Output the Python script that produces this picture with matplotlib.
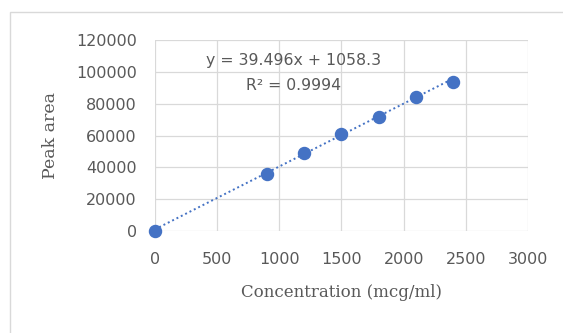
import numpy as np
import matplotlib
matplotlib.use("Agg")
import matplotlib.pyplot as plt
from matplotlib.patches import Rectangle

# calibration data
conc = [0, 900, 1200, 1500, 1800, 2100, 2400]
area = [0, 35600, 48800, 60700, 71800, 84000, 93800]
xticks = [0, 500, 1000, 1500, 2000, 2500, 3000]
yticks = [0, 20000, 40000, 60000, 80000, 100000, 120000]
slope = 39.496
intercept = 1058.3
r2 = 0.9994

blue = "#4472C4"
grey_txt = "#595959"

fig = plt.figure(figsize=(5.63, 3.33), dpi=100)
fig.patches.append(Rectangle((0.018, -0.01), 1.0, 0.975, transform=fig.transFigure,
                             fill=False, edgecolor="#d9d9d9", linewidth=1.0))

ax = fig.add_axes([0.275, 0.306, 0.663, 0.574])

# trendline
xt = np.array([conc[0], conc[-1]])
ax.plot(xt, slope * xt + intercept, linestyle=(0, (1, 1.5)), color=blue, linewidth=1.4, zorder=2)
ax.scatter(conc, area, s=75, color=blue, zorder=3, clip_on=False)

ax.set_xlim(0, 3000)
ax.set_ylim(0, 120000)
ax.set_xticks(xticks)
ax.set_yticks(yticks)
ax.grid(True, color="#d9d9d9", linewidth=0.9)
ax.set_axisbelow(True)
for s in ax.spines.values():
    s.set_visible(False)
ax.tick_params(length=0, labelsize=11.5, colors=grey_txt)
ax.tick_params(axis="x", pad=15)
ax.tick_params(axis="y", pad=13)

ax.set_xlabel("Concentration (mcg/ml)", family="DejaVu Serif", fontsize=12,
              color=grey_txt, labelpad=12)
ax.set_ylabel("Peak area", family="DejaVu Serif", fontsize=12.5,
              color=grey_txt, labelpad=12)

ax.text(0.373, 0.895, f"y = {slope}x + {intercept}", transform=ax.transAxes,
        ha="center", va="center", fontsize=11.3, color=grey_txt)
ax.text(0.373, 0.76, f"R² = {r2}", transform=ax.transAxes,
        ha="center", va="center", fontsize=11.3, color=grey_txt)

fig.savefig("out.png", dpi=100, facecolor="white")
